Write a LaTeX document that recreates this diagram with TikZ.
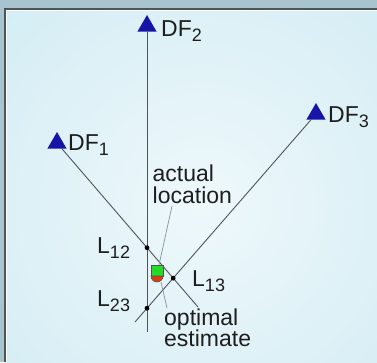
\documentclass[tikz,border=0pt]{standalone}
\usepackage{fontspec}
\setmainfont{Liberation Sans}
\usetikzlibrary{positioning, shapes.geometric}
\definecolor{rahmen}{HTML}{A8C4CE}
\definecolor{himmel}{HTML}{BDE3EE}
\definecolor{hell}{HTML}{EEF8FB}
\definecolor{peilblau}{HTML}{1515A8}
\definecolor{strich}{HTML}{4C5558}
\definecolor{schrift}{HTML}{1E1E1E}
\definecolor{gruen}{HTML}{22DD22}
\definecolor{rot}{HTML}{E23A0C}
\pgfdeclareradialshading{nebel}{\pgfpoint{0bp}{0bp}}{color(0bp)=(hell); color(30bp)=(hell!55!himmel); color(71bp)=(himmel)}
\newcommand{\idx}[1]{\raisebox{-5pt}{\fontsize{18}{18}\selectfont #1}}

\begin{document}
\begin{tikzpicture}[x=1pt, y=-1pt,
      peiler/.style={regular polygon, regular polygon sides=3, fill=peilblau,
        inner sep=0pt, outer sep=0pt, minimum size=22pt},
      strahl/.style={draw=strich, line width=0.9pt},
      hinweis/.style={draw=strich!65, line width=0.7pt},
      punkt/.style={circle, fill=black, inner sep=0pt, minimum size=4.8pt},
      etikett/.style={anchor=base west, inner sep=0pt, text=schrift,
        font=\fontsize{23}{21.7}\selectfont}]
    \useasboundingbox (0,0) rectangle (377,362);
    \fill[rahmen] (0,0) rectangle (377,362);
    \shade[shading=nebel] (5,9) rectangle (400,400);
    \draw[white, line width=0.8pt] (6.8,362) -- (6.8,10.8) -- (377,10.8);
    \draw[strich, line width=1.6pt] (5,362) -- (5,9) -- (377,9);
    % Peiler
    \node[peiler] (df1) at (57,143) {};
    \node[peiler] (df2) at (147,26) {};
    \node[peiler] (df3) at (316,114) {};
    \coordinate (e1) at (198,307);
    \coordinate (e2) at (147,332);
    \coordinate (e3) at (135,322);
    \draw[strahl] (df1) -- (e1);
    \draw[strahl] (df2) -- (e2);
    \draw[strahl] (df3) -- (e3);
    \node[etikett] (n1) at (68,150) {DF\idx{1}};
    \node[etikett] (n2) at (161,36) {DF\idx{2}};
    \node[etikett] (n3) at (328,122) {DF\idx{3}};
    % Schnittpunkte
    \node[punkt] (l12) at (intersection of df1.center--e1 and df2.center--e2) {};
    \node[punkt] (l13) at (intersection of df1.center--e1 and df3.center--e3) {};
    \node[punkt] (l23) at (intersection of df2.center--e2 and df3.center--e3) {};
    \node[etikett] (t12) at (97,253) {L\idx{12}};
    \node[etikett] (t13) at (192,286) {L\idx{13}};
    \node[etikett] (t23) at (97,306) {L\idx{23}};
    % Standort und Schaetzung
    \filldraw[fill=gruen, draw=strich, line width=0.6pt] (151,265) rectangle (163,276);
    \filldraw[fill=rot, draw=strich, line width=0.6pt] (163,276) arc (0:180:6) -- cycle;
    \coordinate (ist) at (159,265);
    \coordinate (opt) at (161,282);
    \node[etikett] (akt) at (152.5,181.5) {actual};
    \node[etikett] (ort) at (152.5,203.3) {location};
    \node[etikett] (schaetz) at (164,325) {optimal};
    \node[etikett] (est) at (164,346.5) {estimate};
    \coordinate (h1) at (172,206);
    \coordinate (h2) at (167,308);
    \draw[hinweis] (h1) -- (ist);
    \draw[hinweis] (opt) -- (h2);
  \end{tikzpicture}
\end{document}
